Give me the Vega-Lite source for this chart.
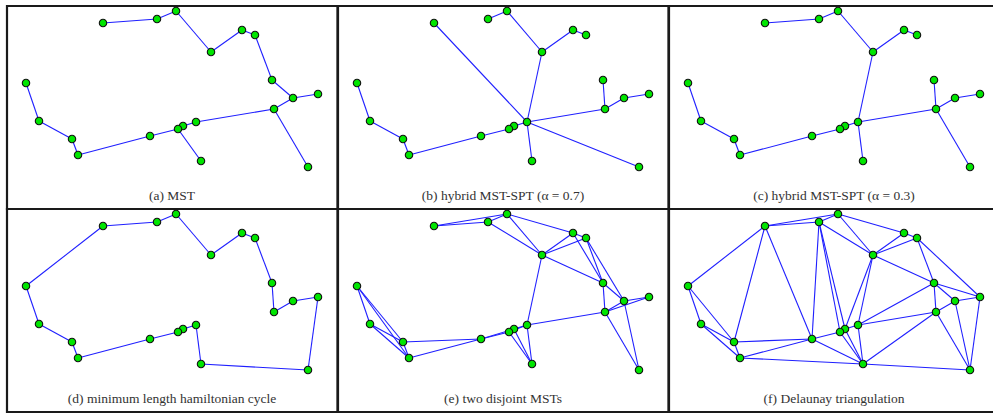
{
  "$schema": "https://vega.github.io/schema/vega-lite/v6.json",
  "padding": {"left": 5, "top": 3, "right": 0, "bottom": 0},
  "background": "white",
  "spacing": 0,
  "columns": 3,
  "bounds": "flush",
  "config": {
    "view": {"stroke": "#1a1a1a", "strokeWidth": 2.2},
    "concat": {"spacing": 0}
  },
  "datasets": {
    "nodes": [
      {"id": 0, "x": 96, "y": 17},
      {"id": 1, "x": 150, "y": 13},
      {"id": 2, "x": 169, "y": 5},
      {"id": 3, "x": 204, "y": 46},
      {"id": 4, "x": 235, "y": 24},
      {"id": 5, "x": 248, "y": 29},
      {"id": 6, "x": 265, "y": 74},
      {"id": 7, "x": 286, "y": 92},
      {"id": 8, "x": 311, "y": 88},
      {"id": 9, "x": 267, "y": 103},
      {"id": 10, "x": 301, "y": 161},
      {"id": 11, "x": 189, "y": 116},
      {"id": 12, "x": 176, "y": 120},
      {"id": 13, "x": 171, "y": 123},
      {"id": 14, "x": 143, "y": 130},
      {"id": 15, "x": 71, "y": 149},
      {"id": 16, "x": 65, "y": 133},
      {"id": 17, "x": 32, "y": 115},
      {"id": 18, "x": 19, "y": 77},
      {"id": 19, "x": 194, "y": 155}
    ],
    "captions": [
      {"p": "a", "label": "(a) MST"},
      {"p": "b", "label": "(b) hybrid MST-SPT (α = 0.7)"},
      {"p": "c", "label": "(c) hybrid MST-SPT (α = 0.3)"},
      {"p": "d", "label": "(d) minimum length hamiltonian cycle"},
      {"p": "e", "label": "(e) two disjoint MSTs"},
      {"p": "f", "label": "(f) Delaunay triangulation"}
    ],
    "edges": [
      {"p": "a", "s": 0, "t": 1}, {"p": "a", "s": 1, "t": 2}, {"p": "a", "s": 2, "t": 3}, {"p": "a", "s": 3, "t": 4},
      {"p": "a", "s": 4, "t": 5}, {"p": "a", "s": 5, "t": 6}, {"p": "a", "s": 6, "t": 7}, {"p": "a", "s": 7, "t": 8},
      {"p": "a", "s": 7, "t": 9}, {"p": "a", "s": 9, "t": 11}, {"p": "a", "s": 9, "t": 10}, {"p": "a", "s": 11, "t": 12},
      {"p": "a", "s": 12, "t": 13}, {"p": "a", "s": 13, "t": 14}, {"p": "a", "s": 13, "t": 19}, {"p": "a", "s": 14, "t": 15},
      {"p": "a", "s": 15, "t": 16}, {"p": "a", "s": 16, "t": 17}, {"p": "a", "s": 17, "t": 18},

      {"p": "b", "s": 0, "t": 11}, {"p": "b", "s": 1, "t": 2}, {"p": "b", "s": 2, "t": 3}, {"p": "b", "s": 3, "t": 4},
      {"p": "b", "s": 4, "t": 5}, {"p": "b", "s": 3, "t": 11}, {"p": "b", "s": 6, "t": 9}, {"p": "b", "s": 7, "t": 9},
      {"p": "b", "s": 7, "t": 8}, {"p": "b", "s": 9, "t": 11}, {"p": "b", "s": 10, "t": 11}, {"p": "b", "s": 11, "t": 19},
      {"p": "b", "s": 11, "t": 12}, {"p": "b", "s": 12, "t": 13}, {"p": "b", "s": 13, "t": 14}, {"p": "b", "s": 14, "t": 15},
      {"p": "b", "s": 15, "t": 16}, {"p": "b", "s": 16, "t": 17}, {"p": "b", "s": 17, "t": 18},

      {"p": "c", "s": 0, "t": 1}, {"p": "c", "s": 1, "t": 2}, {"p": "c", "s": 2, "t": 3}, {"p": "c", "s": 3, "t": 4},
      {"p": "c", "s": 4, "t": 5}, {"p": "c", "s": 3, "t": 11}, {"p": "c", "s": 6, "t": 9}, {"p": "c", "s": 7, "t": 9},
      {"p": "c", "s": 7, "t": 8}, {"p": "c", "s": 9, "t": 11}, {"p": "c", "s": 9, "t": 10}, {"p": "c", "s": 11, "t": 19},
      {"p": "c", "s": 11, "t": 12}, {"p": "c", "s": 12, "t": 13}, {"p": "c", "s": 13, "t": 14}, {"p": "c", "s": 14, "t": 15},
      {"p": "c", "s": 15, "t": 16}, {"p": "c", "s": 16, "t": 17}, {"p": "c", "s": 17, "t": 18},

      {"p": "d", "s": 0, "t": 1}, {"p": "d", "s": 1, "t": 2}, {"p": "d", "s": 2, "t": 3}, {"p": "d", "s": 3, "t": 4},
      {"p": "d", "s": 4, "t": 5}, {"p": "d", "s": 5, "t": 6}, {"p": "d", "s": 6, "t": 9}, {"p": "d", "s": 9, "t": 7},
      {"p": "d", "s": 7, "t": 8}, {"p": "d", "s": 8, "t": 10}, {"p": "d", "s": 10, "t": 19}, {"p": "d", "s": 19, "t": 11},
      {"p": "d", "s": 11, "t": 12}, {"p": "d", "s": 12, "t": 13}, {"p": "d", "s": 13, "t": 14}, {"p": "d", "s": 14, "t": 15},
      {"p": "d", "s": 15, "t": 16}, {"p": "d", "s": 16, "t": 17}, {"p": "d", "s": 17, "t": 18}, {"p": "d", "s": 18, "t": 0},

      {"p": "e", "s": 0, "t": 1}, {"p": "e", "s": 0, "t": 2}, {"p": "e", "s": 1, "t": 2}, {"p": "e", "s": 1, "t": 3},
      {"p": "e", "s": 2, "t": 3}, {"p": "e", "s": 2, "t": 4}, {"p": "e", "s": 3, "t": 4}, {"p": "e", "s": 3, "t": 5},
      {"p": "e", "s": 4, "t": 5}, {"p": "e", "s": 3, "t": 6}, {"p": "e", "s": 4, "t": 6}, {"p": "e", "s": 5, "t": 6},
      {"p": "e", "s": 5, "t": 7}, {"p": "e", "s": 6, "t": 7}, {"p": "e", "s": 6, "t": 9}, {"p": "e", "s": 7, "t": 9},
      {"p": "e", "s": 7, "t": 8}, {"p": "e", "s": 8, "t": 9}, {"p": "e", "s": 7, "t": 10}, {"p": "e", "s": 9, "t": 10},
      {"p": "e", "s": 3, "t": 11}, {"p": "e", "s": 9, "t": 11}, {"p": "e", "s": 11, "t": 19}, {"p": "e", "s": 12, "t": 19},
      {"p": "e", "s": 13, "t": 19}, {"p": "e", "s": 11, "t": 12}, {"p": "e", "s": 12, "t": 13}, {"p": "e", "s": 13, "t": 14},
      {"p": "e", "s": 12, "t": 14}, {"p": "e", "s": 14, "t": 16}, {"p": "e", "s": 14, "t": 15}, {"p": "e", "s": 15, "t": 16},
      {"p": "e", "s": 17, "t": 18}, {"p": "e", "s": 16, "t": 18}, {"p": "e", "s": 15, "t": 18}, {"p": "e", "s": 16, "t": 17},
      {"p": "e", "s": 15, "t": 17}, {"p": "e", "s": 11, "t": 13},

      {"p": "f", "s": 18, "t": 0}, {"p": "f", "s": 18, "t": 17}, {"p": "f", "s": 18, "t": 16}, {"p": "f", "s": 17, "t": 16},
      {"p": "f", "s": 17, "t": 15}, {"p": "f", "s": 16, "t": 15}, {"p": "f", "s": 0, "t": 16}, {"p": "f", "s": 0, "t": 14},
      {"p": "f", "s": 0, "t": 1}, {"p": "f", "s": 0, "t": 2}, {"p": "f", "s": 1, "t": 2}, {"p": "f", "s": 1, "t": 14},
      {"p": "f", "s": 1, "t": 13}, {"p": "f", "s": 1, "t": 12}, {"p": "f", "s": 1, "t": 3}, {"p": "f", "s": 2, "t": 3},
      {"p": "f", "s": 2, "t": 4}, {"p": "f", "s": 3, "t": 4}, {"p": "f", "s": 3, "t": 5}, {"p": "f", "s": 4, "t": 5},
      {"p": "f", "s": 3, "t": 6}, {"p": "f", "s": 5, "t": 6}, {"p": "f", "s": 5, "t": 8}, {"p": "f", "s": 6, "t": 8},
      {"p": "f", "s": 6, "t": 7}, {"p": "f", "s": 6, "t": 9}, {"p": "f", "s": 7, "t": 8}, {"p": "f", "s": 7, "t": 9},
      {"p": "f", "s": 7, "t": 10}, {"p": "f", "s": 8, "t": 10}, {"p": "f", "s": 9, "t": 10}, {"p": "f", "s": 9, "t": 19},
      {"p": "f", "s": 9, "t": 11}, {"p": "f", "s": 6, "t": 11}, {"p": "f", "s": 3, "t": 11}, {"p": "f", "s": 3, "t": 12},
      {"p": "f", "s": 11, "t": 19}, {"p": "f", "s": 11, "t": 12}, {"p": "f", "s": 12, "t": 19}, {"p": "f", "s": 13, "t": 19},
      {"p": "f", "s": 12, "t": 13}, {"p": "f", "s": 13, "t": 14}, {"p": "f", "s": 14, "t": 19}, {"p": "f", "s": 14, "t": 16},
      {"p": "f", "s": 14, "t": 15}, {"p": "f", "s": 15, "t": 19}, {"p": "f", "s": 19, "t": 10}
    ]
  },
  "concat": [
    {
      "width": 330.5, "height": 203,
      "layer": [
        {"data": {"name": "edges"}, "transform": [{"filter": "datum.p == 'a'"}, {"lookup": "s", "from": {"data": {"name": "nodes"}, "key": "id", "fields": ["x", "y"]}, "as": ["sx", "sy"]}, {"lookup": "t", "from": {"data": {"name": "nodes"}, "key": "id", "fields": ["x", "y"]}, "as": ["tx", "ty"]}],
         "mark": {"type": "rule", "color": "#1f1fff", "strokeWidth": 1.1},
         "encoding": {"x": {"field": "sx", "type": "quantitative", "scale": {"domain": [0, 330.5], "nice": false, "zero": false}, "axis": null}, "y": {"field": "sy", "type": "quantitative", "scale": {"domain": [0, 203], "nice": false, "zero": false, "reverse": true}, "axis": null}, "x2": {"field": "tx"}, "y2": {"field": "ty"}}},
        {"data": {"name": "nodes"}, "mark": {"type": "point", "shape": "circle", "filled": true, "fill": "#00e600", "stroke": "#111", "strokeWidth": 1.1, "size": 55, "opacity": 1},
         "encoding": {"x": {"field": "x", "type": "quantitative"}, "y": {"field": "y", "type": "quantitative"}}},
        {"data": {"name": "captions"}, "transform": [{"filter": "datum.p == 'a'"}], "mark": {"type": "text", "font": "Liberation Serif", "fontSize": 13.5, "color": "#333333", "baseline": "middle", "align": "center"},
         "encoding": {"text": {"field": "label"}, "x": {"datum": 165}, "y": {"datum": 189.5}}}
      ]
    },
    {
      "width": 330.5, "height": 203,
      "layer": [
        {"data": {"name": "edges"}, "transform": [{"filter": "datum.p == 'b'"}, {"lookup": "s", "from": {"data": {"name": "nodes"}, "key": "id", "fields": ["x", "y"]}, "as": ["sx", "sy"]}, {"lookup": "t", "from": {"data": {"name": "nodes"}, "key": "id", "fields": ["x", "y"]}, "as": ["tx", "ty"]}],
         "mark": {"type": "rule", "color": "#1f1fff", "strokeWidth": 1.1},
         "encoding": {"x": {"field": "sx", "type": "quantitative", "scale": {"domain": [0, 330.5], "nice": false, "zero": false}, "axis": null}, "y": {"field": "sy", "type": "quantitative", "scale": {"domain": [0, 203], "nice": false, "zero": false, "reverse": true}, "axis": null}, "x2": {"field": "tx"}, "y2": {"field": "ty"}}},
        {"data": {"name": "nodes"}, "mark": {"type": "point", "shape": "circle", "filled": true, "fill": "#00e600", "stroke": "#111", "strokeWidth": 1.1, "size": 55, "opacity": 1},
         "encoding": {"x": {"field": "x", "type": "quantitative"}, "y": {"field": "y", "type": "quantitative"}}},
        {"data": {"name": "captions"}, "transform": [{"filter": "datum.p == 'b'"}], "mark": {"type": "text", "font": "Liberation Serif", "fontSize": 13.5, "color": "#333333", "baseline": "middle", "align": "center"},
         "encoding": {"text": {"field": "label"}, "x": {"datum": 165}, "y": {"datum": 189.5}}}
      ]
    },
    {
      "width": 330.5, "height": 203,
      "layer": [
        {"data": {"name": "edges"}, "transform": [{"filter": "datum.p == 'c'"}, {"lookup": "s", "from": {"data": {"name": "nodes"}, "key": "id", "fields": ["x", "y"]}, "as": ["sx", "sy"]}, {"lookup": "t", "from": {"data": {"name": "nodes"}, "key": "id", "fields": ["x", "y"]}, "as": ["tx", "ty"]}],
         "mark": {"type": "rule", "color": "#1f1fff", "strokeWidth": 1.1},
         "encoding": {"x": {"field": "sx", "type": "quantitative", "scale": {"domain": [0, 330.5], "nice": false, "zero": false}, "axis": null}, "y": {"field": "sy", "type": "quantitative", "scale": {"domain": [0, 203], "nice": false, "zero": false, "reverse": true}, "axis": null}, "x2": {"field": "tx"}, "y2": {"field": "ty"}}},
        {"data": {"name": "nodes"}, "mark": {"type": "point", "shape": "circle", "filled": true, "fill": "#00e600", "stroke": "#111", "strokeWidth": 1.1, "size": 55, "opacity": 1},
         "encoding": {"x": {"field": "x", "type": "quantitative"}, "y": {"field": "y", "type": "quantitative"}}},
        {"data": {"name": "captions"}, "transform": [{"filter": "datum.p == 'c'"}], "mark": {"type": "text", "font": "Liberation Serif", "fontSize": 13.5, "color": "#333333", "baseline": "middle", "align": "center"},
         "encoding": {"text": {"field": "label"}, "x": {"datum": 165}, "y": {"datum": 189.5}}}
      ]
    },
    {
      "width": 330.5, "height": 203,
      "layer": [
        {"data": {"name": "edges"}, "transform": [{"filter": "datum.p == 'd'"}, {"lookup": "s", "from": {"data": {"name": "nodes"}, "key": "id", "fields": ["x", "y"]}, "as": ["sx", "sy"]}, {"lookup": "t", "from": {"data": {"name": "nodes"}, "key": "id", "fields": ["x", "y"]}, "as": ["tx", "ty"]}],
         "mark": {"type": "rule", "color": "#1f1fff", "strokeWidth": 1.1},
         "encoding": {"x": {"field": "sx", "type": "quantitative", "scale": {"domain": [0, 330.5], "nice": false, "zero": false}, "axis": null}, "y": {"field": "sy", "type": "quantitative", "scale": {"domain": [0, 203], "nice": false, "zero": false, "reverse": true}, "axis": null}, "x2": {"field": "tx"}, "y2": {"field": "ty"}}},
        {"data": {"name": "nodes"}, "mark": {"type": "point", "shape": "circle", "filled": true, "fill": "#00e600", "stroke": "#111", "strokeWidth": 1.1, "size": 55, "opacity": 1},
         "encoding": {"x": {"field": "x", "type": "quantitative"}, "y": {"field": "y", "type": "quantitative"}}},
        {"data": {"name": "captions"}, "transform": [{"filter": "datum.p == 'd'"}], "mark": {"type": "text", "font": "Liberation Serif", "fontSize": 13.5, "color": "#333333", "baseline": "middle", "align": "center"},
         "encoding": {"text": {"field": "label"}, "x": {"datum": 165}, "y": {"datum": 189.5}}}
      ]
    },
    {
      "width": 330.5, "height": 203,
      "layer": [
        {"data": {"name": "edges"}, "transform": [{"filter": "datum.p == 'e'"}, {"lookup": "s", "from": {"data": {"name": "nodes"}, "key": "id", "fields": ["x", "y"]}, "as": ["sx", "sy"]}, {"lookup": "t", "from": {"data": {"name": "nodes"}, "key": "id", "fields": ["x", "y"]}, "as": ["tx", "ty"]}],
         "mark": {"type": "rule", "color": "#1f1fff", "strokeWidth": 1.1},
         "encoding": {"x": {"field": "sx", "type": "quantitative", "scale": {"domain": [0, 330.5], "nice": false, "zero": false}, "axis": null}, "y": {"field": "sy", "type": "quantitative", "scale": {"domain": [0, 203], "nice": false, "zero": false, "reverse": true}, "axis": null}, "x2": {"field": "tx"}, "y2": {"field": "ty"}}},
        {"data": {"name": "nodes"}, "mark": {"type": "point", "shape": "circle", "filled": true, "fill": "#00e600", "stroke": "#111", "strokeWidth": 1.1, "size": 55, "opacity": 1},
         "encoding": {"x": {"field": "x", "type": "quantitative"}, "y": {"field": "y", "type": "quantitative"}}},
        {"data": {"name": "captions"}, "transform": [{"filter": "datum.p == 'e'"}], "mark": {"type": "text", "font": "Liberation Serif", "fontSize": 13.5, "color": "#333333", "baseline": "middle", "align": "center"},
         "encoding": {"text": {"field": "label"}, "x": {"datum": 165}, "y": {"datum": 189.5}}}
      ]
    },
    {
      "width": 330.5, "height": 203,
      "layer": [
        {"data": {"name": "edges"}, "transform": [{"filter": "datum.p == 'f'"}, {"lookup": "s", "from": {"data": {"name": "nodes"}, "key": "id", "fields": ["x", "y"]}, "as": ["sx", "sy"]}, {"lookup": "t", "from": {"data": {"name": "nodes"}, "key": "id", "fields": ["x", "y"]}, "as": ["tx", "ty"]}],
         "mark": {"type": "rule", "color": "#1f1fff", "strokeWidth": 1.1},
         "encoding": {"x": {"field": "sx", "type": "quantitative", "scale": {"domain": [0, 330.5], "nice": false, "zero": false}, "axis": null}, "y": {"field": "sy", "type": "quantitative", "scale": {"domain": [0, 203], "nice": false, "zero": false, "reverse": true}, "axis": null}, "x2": {"field": "tx"}, "y2": {"field": "ty"}}},
        {"data": {"name": "nodes"}, "mark": {"type": "point", "shape": "circle", "filled": true, "fill": "#00e600", "stroke": "#111", "strokeWidth": 1.1, "size": 55, "opacity": 1},
         "encoding": {"x": {"field": "x", "type": "quantitative"}, "y": {"field": "y", "type": "quantitative"}}},
        {"data": {"name": "captions"}, "transform": [{"filter": "datum.p == 'f'"}], "mark": {"type": "text", "font": "Liberation Serif", "fontSize": 13.5, "color": "#333333", "baseline": "middle", "align": "center"},
         "encoding": {"text": {"field": "label"}, "x": {"datum": 165}, "y": {"datum": 189.5}}}
      ]
    }
  ]
}
